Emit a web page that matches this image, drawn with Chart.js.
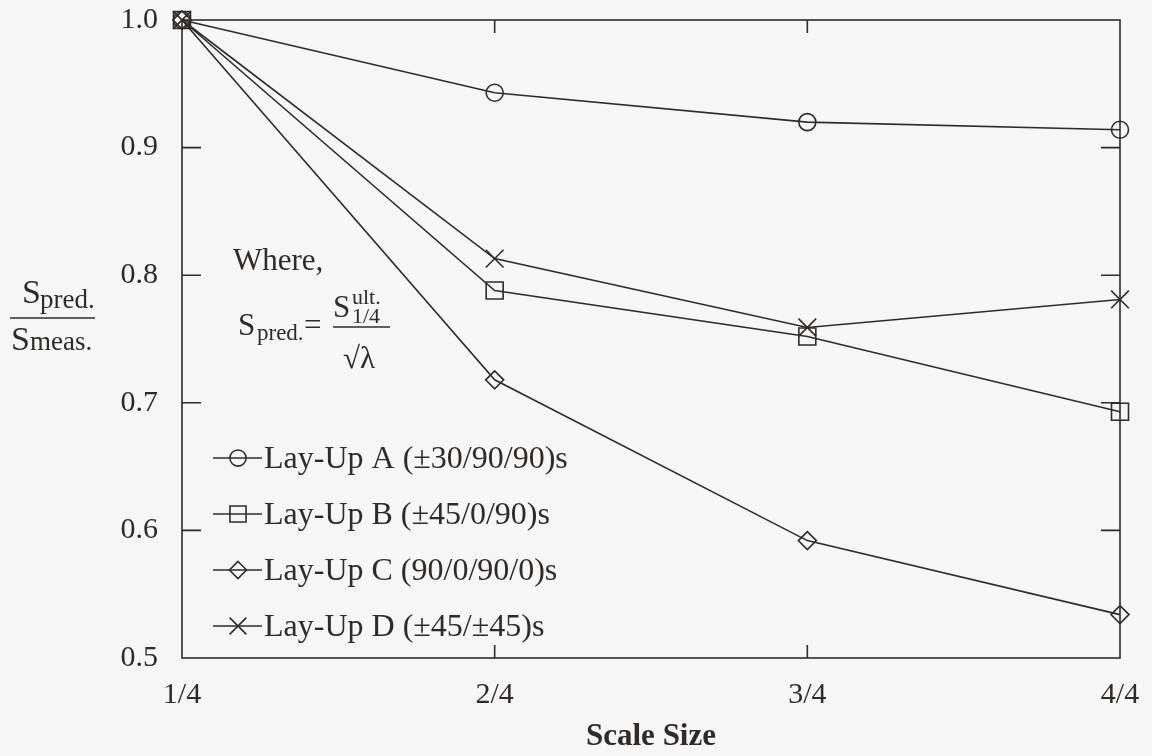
<!DOCTYPE html>
<html>
<head>
<meta charset="utf-8">
<script src="https://cdn.jsdelivr.net/npm/chart.js@4.4.1/dist/chart.umd.min.js"></script>
<style>
  html, body { margin: 0; padding: 0; background: #f6f6f6; }
  #wrap { width: 1152px; height: 756px; }
</style>
</head>
<body>
<div id="wrap"><canvas id="scaleChart" width="1152" height="756"></canvas></div>
<script>
// x categories (scale size)
const scaleSizes = ['1/4', '2/4', '3/4', '4/4'];

// S_pred / S_meas for each lay-up
const layUpA = [1.0, 0.943, 0.920, 0.914];
const layUpB = [1.0, 0.788, 0.752, 0.693];
const layUpC = [1.0, 0.718, 0.592, 0.534];
const layUpD = [1.0, 0.813, 0.759, 0.781];

const seriesNames = [
  'Lay-Up A (\u00b130/90/90)s',
  'Lay-Up B (\u00b145/0/90)s',
  'Lay-Up C (90/0/90/0)s',
  'Lay-Up D (\u00b145/\u00b145)s'
];

const yMin = 0.5, yMax = 1.0, yStep = 0.1;

const ink = '#2f2b29';
const serif = '"Liberation Serif", "DejaVu Serif", serif';

const markerStyles = ['circle', 'rect', 'rectRot', 'crossRot'];
const markerRadius = [8.5, 12, 9, 12.5];

// draw a marker the same way for the legend
function drawMarker(ctx, style, x, y, r) {
  ctx.beginPath();
  if (style === 'circle') {
    ctx.arc(x, y, r, 0, Math.PI * 2);
  } else if (style === 'rect') {
    const s = Math.SQRT1_2 * r;
    ctx.rect(x - s, y - s, 2 * s, 2 * s);
  } else if (style === 'rectRot') {
    ctx.moveTo(x, y - r); ctx.lineTo(x + r, y); ctx.lineTo(x, y + r); ctx.lineTo(x - r, y); ctx.closePath();
  } else if (style === 'crossRot') {
    const s = Math.SQRT1_2 * r;
    ctx.moveTo(x - s, y - s); ctx.lineTo(x + s, y + s);
    ctx.moveTo(x - s, y + s); ctx.lineTo(x + s, y - s);
  }
  ctx.stroke();
}

// box round the plot with inward tick marks
const framePlugin = {
  id: 'frame',
  beforeDatasetsDraw(chart) {
    const { ctx, chartArea: a, scales: { x, y } } = chart;
    ctx.save();
    ctx.strokeStyle = ink;
    ctx.lineWidth = 1.6;
    ctx.strokeRect(a.left, a.top, a.right - a.left, a.bottom - a.top);
    ctx.beginPath();
    y.ticks.forEach(t => {
      if (t.value <= yMin + 1e-6 || t.value >= yMax - 1e-6) return;
      const py = y.getPixelForValue(t.value);
      ctx.moveTo(a.left, py); ctx.lineTo(a.left + 19, py);
      ctx.moveTo(a.right, py); ctx.lineTo(a.right - 19, py);
    });
    for (let i = 1; i < scaleSizes.length - 1; i++) {
      const px = x.getPixelForValue(i);
      ctx.moveTo(px, a.bottom); ctx.lineTo(px, a.bottom - 13);
      ctx.moveTo(px, a.top); ctx.lineTo(px, a.top + 13);
    }
    ctx.stroke();
    ctx.restore();
  }
};

// legend inside plot + formula note + fraction axis title
const notesPlugin = {
  id: 'notes',
  afterDraw(chart) {
    const { ctx, chartArea: a } = chart;
    ctx.save();
    ctx.fillStyle = ink;
    ctx.strokeStyle = ink;
    ctx.lineWidth = 1.6;
    ctx.textBaseline = 'alphabetic';

    // legend
    ctx.font = '32px ' + serif;
    chart.data.datasets.forEach((ds, i) => {
      const rowY = a.top + 438 + i * 56;
      const x0 = a.left + 31;
      ctx.beginPath();
      ctx.moveTo(x0, rowY); ctx.lineTo(x0 + 49, rowY);
      ctx.stroke();
      drawMarker(ctx, markerStyles[i], x0 + 25, rowY, markerRadius[i] * 0.95);
      ctx.fillText(ds.label, x0 + 51, rowY + 10);
    });

    // formula note
    const nx = a.left + 51;
    ctx.font = '31px ' + serif;
    ctx.fillText('Where,', nx, a.top + 250);
    ctx.fillText('S', nx + 5, a.top + 315);
    ctx.font = '23px ' + serif;
    ctx.fillText('pred.', nx + 24, a.top + 320);
    ctx.font = '31px ' + serif;
    ctx.fillText('=', nx + 71, a.top + 315);
    ctx.beginPath();
    ctx.moveTo(nx + 100, a.top + 307); ctx.lineTo(nx + 157, a.top + 307);
    ctx.stroke();
    ctx.fillText('S', nx + 100, a.top + 297);
    ctx.font = '22px ' + serif;
    ctx.fillText('ult.', nx + 119, a.top + 284);
    ctx.fillText('1/4', nx + 119, a.top + 303);
    ctx.font = '31px ' + serif;
    ctx.fillText('\u221a\u03bb', nx + 110, a.top + 348);

    // y axis title as a fraction
    ctx.font = '34px ' + serif;
    ctx.fillText('S', 22, 303);
    ctx.fillText('S', 11, 350);
    ctx.font = '27px ' + serif;
    ctx.fillText('pred.', 40, 308);
    ctx.fillText('meas.', 30, 350);
    ctx.beginPath();
    ctx.moveTo(10, 318); ctx.lineTo(95, 318);
    ctx.stroke();
    ctx.restore();
  }
};

const seriesValues = [layUpA, layUpB, layUpC, layUpD];

const datasets = seriesValues.map((vals, i) => ({
  label: seriesNames[i],
  data: vals,
  borderColor: ink,
  borderWidth: 1.6,
  pointStyle: markerStyles[i],
  pointRadius: markerRadius[i],
  pointBorderColor: ink,
  pointBorderWidth: 1.6,
  pointBackgroundColor: 'rgba(0,0,0,0)',
  fill: false,
  tension: 0,
  clip: false
}));

const ctx = document.getElementById('scaleChart').getContext('2d');

const scaleChart = new Chart(ctx, {
  type: 'line',
  data: {
    labels: scaleSizes,
    datasets: datasets
  },
  options: {
    responsive: false,
    animation: false,
    events: [],
    layout: {
      padding: { top: 20, right: 32, bottom: 0, left: 0 }
    },
    plugins: {
      legend: { display: false },
      tooltip: { enabled: false }
    },
    scales: {
      x: {
        type: 'category',
        offset: false,
        grid: { display: false, drawTicks: false },
        border: { display: false },
        ticks: {
          color: ink,
          padding: 19,
          maxRotation: 0,
          font: { family: serif, size: 30 }
        },
        title: {
          display: true,
          text: 'Scale Size',
          color: ink,
          padding: { top: 0, bottom: 0 },
          font: { family: serif, size: 31, weight: 'bold' }
        },
        afterFit(scale) {
          scale.height = 98;
          scale.paddingLeft = 0;
          scale.paddingRight = 0;
        }
      },
      y: {
        min: yMin,
        max: yMax,
        grid: { display: false, drawTicks: false },
        border: { display: false },
        ticks: {
          stepSize: yStep,
          color: ink,
          padding: 24,
          font: { family: serif, size: 30 },
          callback: v => Number(v).toFixed(1)
        },
        afterFit(scale) {
          scale.width = 182;
          scale.paddingTop = 0;
          scale.paddingBottom = 0;
        }
      }
    }
  },
  plugins: [framePlugin, notesPlugin]
});
</script>
</body>
</html>
